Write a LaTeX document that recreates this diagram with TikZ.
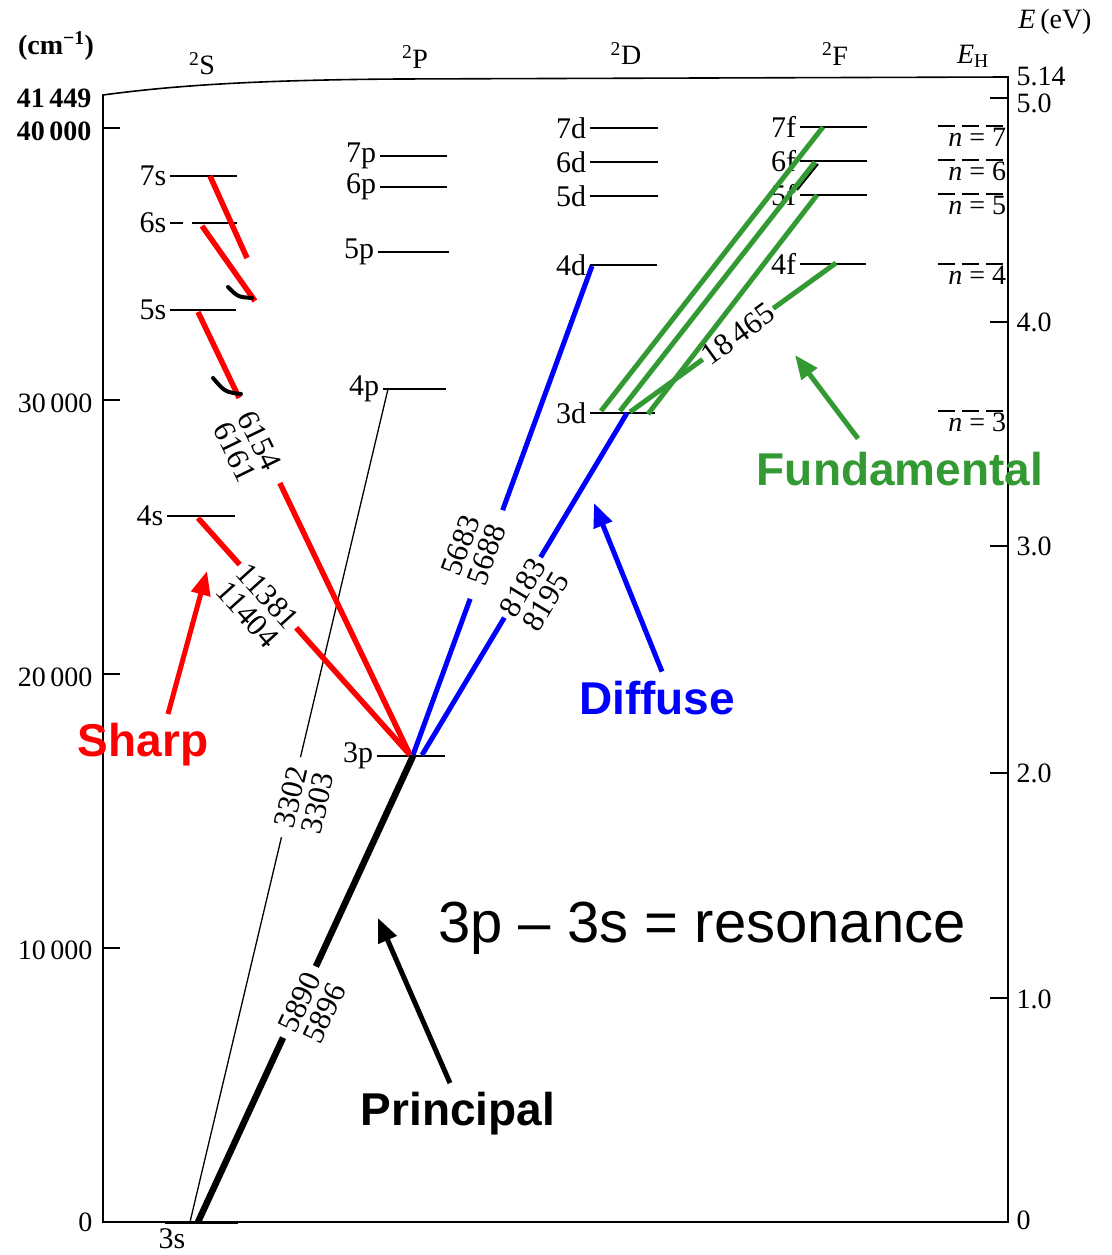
\documentclass[tikz,border=0pt]{standalone}
\usepackage{fontspec}
\setmainfont{Liberation Serif}
\newfontfamily\labelfont{Liberation Sans}
\usetikzlibrary{arrows.meta,calc}
\definecolor{SharpRed}{HTML}{FF0000}
\definecolor{DiffBlue}{HTML}{0000FF}
\definecolor{FundGreen}{HTML}{339933}

\begin{document}
\begin{tikzpicture}[x=1pt,y=-1pt,
  level/.style={line width=1.6pt},
  lvl/.style={left,inner sep=3pt,font=\fontsize{30}{32}\selectfont},
  axlab/.style={font=\fontsize{28}{30}\selectfont},
  wave/.style={font=\fontsize{31}{31}\selectfont,inner ysep=3pt,inner xsep=6pt},
  sharp/.style={SharpRed,line width=5.5pt},
  diffuse/.style={DiffBlue,line width=5pt},
  fund/.style={FundGreen,line width=5pt},
  series/.style={font=\fontsize{46}{48}\selectfont\labelfont\bfseries},
  pointer/.style={line width=5pt,-{Triangle[length=24pt,width=19pt]}}]
  \useasboundingbox (0,0) rectangle (1111,1255);

  % frame of the diagram
  \draw[level] (103,1222) -- (103,95) .. controls (170,86) and (250,80) .. (400,79) -- (1008,77) -- (1008,1222) -- cycle;

  % wavenumber scale (left)
  \draw[level] (103,128) -- (120,128);
  \draw[level] (103,400) -- (120,400);
  \draw[level] (103,674) -- (120,674);
  \draw[level] (103,948) -- (120,948);
  \node[axlab] (unit) at (56,46) {\textbf{(cm\textsuperscript{−1})}};
  \node[axlab,anchor=east] (c41) at (95,98) {\textbf{41\,449}};
  \node[axlab,anchor=east] (c40) at (95,131) {\textbf{40\,000}};
  \node[axlab,anchor=east] (c30) at (96,403) {30\,000};
  \node[axlab,anchor=east] (c20) at (96,677) {20\,000};
  \node[axlab,anchor=east] (c10) at (96,950) {10\,000};
  \node[axlab,anchor=east] (c00) at (96,1222) {0};

  % energy scale (right)
  \draw[level] (990,98) -- (1008,98);
  \draw[level] (990,322) -- (1008,322);
  \draw[level] (990,546) -- (1008,546);
  \draw[level] (990,773) -- (1008,773);
  \draw[level] (990,998) -- (1008,998);
  \node[axlab] (eunit) at (1055,22) {\textit{E}\,(eV)};
  \node[axlab,anchor=west] (e514) at (1013,76) {5.14};
  \node[axlab,anchor=west] (e50) at (1013,103) {5.0};
  \node[axlab,anchor=west] (e40) at (1013,322) {4.0};
  \node[axlab,anchor=west] (e30) at (1013,546) {3.0};
  \node[axlab,anchor=west] (e20) at (1013,773) {2.0};
  \node[axlab,anchor=west] (e10) at (1013,999) {1.0};
  \node[axlab,anchor=west] (e00) at (1013,1220) {0};

  % term headings
  \node[axlab] (hS) at (202,64) {\textsuperscript{2}S};
  \node[axlab] (hP) at (415,57) {\textsuperscript{2}P};
  \node[axlab] (hD) at (626,54) {\textsuperscript{2}D};
  \node[axlab] (hF) at (835,54) {\textsuperscript{2}F};
  \node[axlab] (hH) at (973,56) {\textit{E}\textsubscript{H}};

  % S levels
  \draw[line width=3pt] (165,1222) -- (238,1222);
  \node[lvl,anchor=north] (l3s) at (172,1225) {3s};
  \draw[level] (167,516) node[lvl] (l4s) {4s} -- (235,516);
  \draw[level] (170,310) node[lvl] (l5s) {5s} -- (236,310);
  \draw[level,dash pattern=on 13pt off 9pt on 60pt off 0pt] (170,223) node[lvl] (l6s) {6s} -- (237,223);
  \draw[level] (170,176) node[lvl] (l7s) {7s} -- (237,176);
  % P levels
  \draw[level] (377,756) node[lvl] (l3p) {3p} -- (445,756);
  \draw[level] (383,389) node[lvl] (l4p) {4p} -- (446,389);
  \draw[level] (378,252) node[lvl] (l5p) {5p} -- (449,252);
  \draw[level] (380,187) node[lvl] (l6p) {6p} -- (447,187);
  \draw[level] (380,156) node[lvl] (l7p) {7p} -- (447,156);
  % D levels
  \draw[level] (590,413) node[lvl] (l3d) {3d} -- (655,413);
  \draw[level] (590,265) node[lvl] (l4d) {4d} -- (657,265);
  \draw[level] (590,196) node[lvl] (l5d) {5d} -- (658,196);
  \draw[level] (590,162) node[lvl] (l6d) {6d} -- (658,162);
  \draw[level] (590,128) node[lvl] (l7d) {7d} -- (658,128);
  % F levels
  \draw[level] (800,264) node[lvl] (l4f) {4f} -- (866,264);
  \draw[level] (800,195) node[lvl] (l5f) {5f} -- (867,195);
  \draw[level] (800,161) node[lvl] (l6f) {6f} -- (867,161);
  \draw[level] (800,127) node[lvl] (l7f) {7f} -- (867,127);
  % hydrogen levels
  \draw[level,dash pattern=on 17pt off 7pt] (938,411) -- (1008,411) node[axlab,below left,inner sep=1pt] (n3) {\textit{n} = 3};
  \draw[level,dash pattern=on 17pt off 7pt] (938,264) -- (1008,264) node[axlab,below left,inner sep=1pt] (n4) {\textit{n} = 4};
  \draw[level,dash pattern=on 17pt off 7pt] (938,194) -- (1008,194) node[axlab,below left,inner sep=1pt] (n5) {\textit{n} = 5};
  \draw[level,dash pattern=on 17pt off 7pt] (938,160) -- (1008,160) node[axlab,below left,inner sep=1pt] (n6) {\textit{n} = 6};
  \draw[level,dash pattern=on 17pt off 7pt] (938,126) -- (1008,126) node[axlab,below left,inner sep=1pt] (n7) {\textit{n} = 7};

  % transition end points
  \coordinate (s3a) at (190,1222);
  \coordinate (s3b) at (198,1222);
  \coordinate (p3a) at (410,755);
  \coordinate (p3b) at (413,756);
  \coordinate (p3c) at (413,755);
  \coordinate (p3d) at (422,755);
  \coordinate (p4a) at (388,389);
  \coordinate (s4a) at (198,518);
  \coordinate (s5a) at (198,312);
  \coordinate (s6a) at (202,226);
  \coordinate (s6e) at (255,301);
  \coordinate (s7a) at (210,176);
  \coordinate (s7e) at (247,258);
  \coordinate (d4a) at (592,266);
  \coordinate (d3a) at (627,413);
  \coordinate (d3g1) at (601,411);
  \coordinate (d3g2) at (620,411);
  \coordinate (d3g3) at (648,414);
  \coordinate (d3g4) at (630,412);
  \coordinate (f7a) at (823,127);
  \coordinate (f6a) at (815,162);
  \coordinate (f5a) at (817,195);
  \coordinate (f4a) at (836,263);

  % principal series
  \node[wave,rotate=77,inner xsep=10pt] (w3302) at ($(s3a)!0.51!(p4a)$) {3302};
  \node[wave,rotate=77,anchor=north] (w3303) at (w3302.south) {3303};
  \draw[line width=1.3pt] (p4a) -- (w3302) (w3302) -- (s3a);
  \node[wave,rotate=65,inner xsep=8pt] (w5890) at ($(p3b)!0.528!(s3b)$) {5890};
  \node[wave,rotate=65,anchor=north] (w5896) at (w5890.south) {5896};
  \draw[line width=6.5pt] (p3b) -- (w5890) (w5890) -- (s3b);

  % sharp series
  \node[wave,rotate=-48,inner xsep=4pt] (w11381) at ($(s4a)!0.33!(p3a)$) {11381};
  \node[wave,rotate=-48,anchor=north] (w11404) at (w11381.south) {11404};
  \draw[sharp] (s4a) -- (w11381) (w11381) -- (p3a);
  \node[wave,rotate=-64,inner xsep=16pt] (w6154) at ($(s5a)!0.29!(p3a)$) {6154};
  \node[wave,rotate=-64,anchor=north] (w6161) at (w6154.south) {6161};
  \draw[sharp] (s5a) -- (w6154) (w6154) -- (p3a);
  \draw[sharp] (s6a) -- (s6e);
  \draw[sharp] (s7a) -- (s7e);
  \draw[line width=4pt,line cap=round] (228,287) .. controls (238,297) .. (252,298);
  \draw[line width=4pt,line cap=round] (213,378) .. controls (225,392) .. (241,394);

  % diffuse series
  \node[wave,rotate=70,inner xsep=16pt] (w5688) at ($(d4a)!0.59!(p3c)$) {5688};
  \node[wave,rotate=70,anchor=south] (w5683) at (w5688.north) {5683};
  \draw[diffuse] (d4a) -- (w5688) (w5688) -- (p3c);
  \node[wave,rotate=59,inner xsep=4pt] (w8183) at ($(d3a)!0.51!(p3d)$) {8183};
  \node[wave,rotate=59,anchor=north] (w8195) at (w8183.south) {8195};
  \draw[diffuse] (d3a) -- (w8183) (w8183) -- (p3d);

  % fundamental series
  \draw[line width=2pt] (818,164) -- (797,190);
  \draw[fund] (d3g1) -- (f7a);
  \draw[fund] (d3g2) -- (f6a);
  \draw[fund] (d3g3) -- (f5a);
  \node[wave,rotate=36,inner xsep=2pt] (w18465) at ($(d3g4)!0.524!(f4a)$) {18\,465};
  \draw[fund] (d3g4) -- (w18465) (w18465) -- (f4a);

  % series names
  \node[series,SharpRed] (sharp) at (143,745) {Sharp};
  \node[series,DiffBlue] (diffuse) at (657,698) {Diffuse};
  \node[series,FundGreen] (fundamental) at (900,469) {Fundamental};
  \node[series] (principal) at (458,1114) {Principal};
  \coordinate (sharptip) at (207,571);
  \coordinate (diffusetip) at (594,503);
  \coordinate (fundtip) at (795,355);
  \coordinate (principaltip) at (378,918);
  \draw[pointer,SharpRed] ([xshift=25pt,yshift=6pt]sharp.north) -- (sharptip);
  \draw[pointer,DiffBlue] ([xshift=5pt,yshift=6pt]diffuse.north) -- (diffusetip);
  \draw[pointer,FundGreen] ([xshift=-42pt,yshift=10pt]fundamental.north) -- (fundtip);
  \draw[pointer] ([xshift=-8pt,yshift=6pt]principal.north) -- (principaltip);

  % note
  \node[font=\fontsize{58}{60}\selectfont\labelfont] (reso) at (702,928) {3p – 3s = resonance};
\end{tikzpicture}
\end{document}
